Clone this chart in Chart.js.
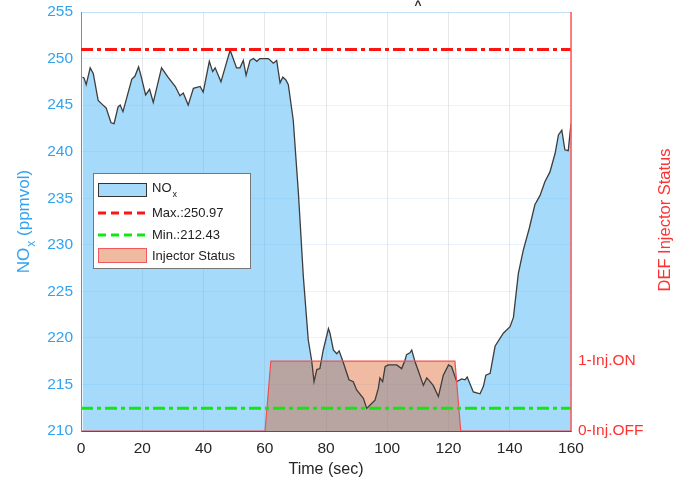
<!DOCTYPE html>
<html>
<head>
<meta charset="utf-8">
<script src="https://cdn.jsdelivr.net/npm/chart.js@4"></script>
<style>
  html, body { margin: 0; padding: 0; background: #fff; }
  #chart { display: block; }
</style>
</head>
<body>
<canvas id="chart" width="681" height="481"></canvas>
<script>
// NOx trace (sec, ppmvol)
var timeSec = [0.5, 1, 1.7, 3, 4, 5.6, 7.2, 8.2, 9.8, 10.8, 12.1, 12.8, 13.7, 16.6, 17.6, 18.8, 19.7, 21.1, 22.4, 23.6,
  26.3, 28.4, 30.8, 32.3, 33.4, 35, 36.7, 38.9, 39.9, 41.9, 43, 43.8, 45.7, 48.7, 50.8, 51.9, 53, 53.9, 55.2, 56.3,
  57.4, 58.4, 61.2, 62.8, 63.9, 65, 65.9, 66.9, 67.7, 69.3, 71, 72.6, 74.2, 75.3, 76.1, 77, 78, 79.1, 80.8, 81.3,
  82.4, 83.5, 84.3, 85.7, 87.5, 88.9, 90, 92.2, 93.3, 94.4, 96, 97.1, 97.6, 98.5, 99.3, 100.3, 103.1, 104.7, 105.8, 106.3,
  107.4, 108, 109.1, 110.1, 111.8, 112.9, 114, 115, 116.7, 118.3, 120, 121, 122.7, 124.3, 125.4, 126.1, 128.1, 130.3, 131.4, 132.2,
  133.6, 135.2, 137.9, 140.1, 141.2, 142.8, 144.4, 146.4, 148.2, 149.9, 151.5, 153.1, 154.8, 155.9, 157, 158, 159.1, 160];
var noxPpm = [248, 247.9, 247.2, 249, 248.4, 245.5, 245, 244.7, 243.1, 243, 244.8, 245, 244.3, 247.8, 248.1, 249.1, 248, 246.1, 246.7, 245.3,
  249, 248, 247, 246, 246.3, 245, 246.8, 247, 246.4, 249.7, 248.6, 249, 247.5, 250.9, 249, 249, 249.8, 248.2, 249.8, 250,
  249.7, 250, 250, 249.5, 249.8, 247.4, 248, 247.7, 247.2, 243.4, 235.5, 226.6, 219.8, 217.6, 215.3, 216.6, 216.7, 218.7, 221, 220.5,
  218.7, 218.3, 218.6, 217.3, 215.5, 215.3, 214.4, 213.5, 212.43, 212.8, 213.3, 214.6, 215.7, 215.3, 216.9, 217.1, 217.1, 216.7, 217.6, 218.2,
  218.4, 218.7, 217.4, 216.5, 214.9, 215.7, 215.3, 214.9, 213.7, 216, 217.1, 216.9, 215.3, 215.6, 215.5, 215.8, 214.2, 214, 214.8, 216,
  216.2, 219.1, 220.5, 221.2, 222.2, 226.9, 229.4, 231.8, 234.3, 235.3, 236.8, 237.8, 239.8, 241.8, 242.3, 240.2, 240.1, 243];

// DEF injector status (0 = off, 1 = on)
var injTime = [0, 60.1, 62, 122.1, 124, 160];
var injStatus = [0, 0, 1, 1, 0, 0];
var injLabels = ['0-Inj.OFF', '1-Inj.ON'];

var maxNox = 250.97;
var minNox = 212.43;
var xRange = [0, 160];
var yRange = [210, 255];

var FONT = "'Liberation Sans', Arial, sans-serif";
var BLUE = 'rgb(51,163,240)';
var RED = 'rgb(255,50,50)';

function pts(xs, ys) {
  return xs.map(function(x, i) { return { x: x, y: ys[i] }; });
}

// keep the plot box where the figure has it
function fixWidth(w) {
  return function(s) {
    s.width = w;
    s.paddingTop = 0;
    s.paddingBottom = 0;
  };
}

// titles, legend and the little mark at the top
var overlay = {
  id: 'overlay',
  afterDraw: function(chart) {
    var ctx = chart.ctx;
    var a = chart.chartArea;
    ctx.save();
    ctx.strokeStyle = 'rgba(120,190,240,0.35)';
    ctx.lineWidth = 1;
    ctx.beginPath(); ctx.moveTo(a.left, a.top + 0.5); ctx.lineTo(a.right, a.top + 0.5); ctx.stroke();
    ctx.strokeStyle = 'rgba(255,90,90,0.75)';
    ctx.beginPath(); ctx.moveTo(a.right - 0.5, a.top); ctx.lineTo(a.right - 0.5, a.bottom); ctx.stroke();

    // left title with subscript
    ctx.save();
    ctx.translate(24, 222);
    ctx.rotate(-Math.PI / 2);
    ctx.fillStyle = BLUE;
    ctx.textBaseline = 'middle';
    ctx.font = '17px ' + FONT;
    var w1 = ctx.measureText('NO').width;
    var w3 = ctx.measureText(' (ppmvol)').width;
    ctx.font = '12px ' + FONT;
    var w2 = ctx.measureText('x').width;
    var x0 = -(w1 + w2 + w3) / 2;
    ctx.font = '17px ' + FONT;
    ctx.fillText('NO', x0, 0);
    ctx.font = '12px ' + FONT;
    ctx.fillText('x', x0 + w1 + 1, 8);
    ctx.font = '17px ' + FONT;
    ctx.fillText(' (ppmvol)', x0 + w1 + w2 + 1, 0);
    ctx.restore();

    // right title, reading upwards
    ctx.save();
    ctx.translate(665, 220);
    ctx.rotate(-Math.PI / 2);
    ctx.fillStyle = RED;
    ctx.textAlign = 'center';
    ctx.textBaseline = 'middle';
    ctx.font = '16.5px ' + FONT;
    ctx.fillText('DEF Injector Status', 0, 0);
    ctx.restore();

    // x title
    ctx.fillStyle = '#262626';
    ctx.textAlign = 'center';
    ctx.textBaseline = 'middle';
    ctx.font = '16px ' + FONT;
    ctx.fillText('Time (sec)', (a.left + a.right) / 2, 470);
    ctx.font = 'bold 12px ' + FONT;
    ctx.fillText('^', 418, 6);

    // legend
    var lx = 93, ly = 173, lw = 157, lh = 95;
    ctx.fillStyle = '#fff';
    ctx.fillRect(lx, ly, lw, lh);
    ctx.strokeStyle = '#777';
    ctx.lineWidth = 1;
    ctx.strokeRect(lx + 0.5, ly + 0.5, lw, lh);

    ctx.fillStyle = 'rgb(166,218,251)';
    ctx.fillRect(98, 183, 49, 14);
    ctx.strokeStyle = '#333';
    ctx.strokeRect(98.5, 183.5, 48, 13);

    ctx.lineWidth = 3;
    ctx.setLineDash([8, 5]);
    ctx.strokeStyle = 'rgb(255,20,20)';
    ctx.beginPath(); ctx.moveTo(98, 213); ctx.lineTo(147, 213); ctx.stroke();
    ctx.strokeStyle = 'rgb(20,230,20)';
    ctx.beginPath(); ctx.moveTo(98, 235); ctx.lineTo(147, 235); ctx.stroke();
    ctx.setLineDash([]);

    ctx.fillStyle = 'rgb(238,186,160)';
    ctx.fillRect(98, 248, 49, 15);
    ctx.strokeStyle = 'rgb(240,90,90)';
    ctx.lineWidth = 1;
    ctx.strokeRect(98.5, 248.5, 48, 14);

    ctx.fillStyle = '#222';
    ctx.textAlign = 'left';
    ctx.textBaseline = 'middle';
    ctx.font = '13px ' + FONT;
    ctx.fillText('NO', 152, 188);
    var nw = ctx.measureText('NO').width;
    ctx.font = '9px ' + FONT;
    ctx.fillText('x', 152 + nw + 1, 195);
    ctx.font = '13px ' + FONT;
    ctx.fillText('Max.:' + maxNox.toFixed(2), 152, 213);
    ctx.fillText('Min.:' + minNox.toFixed(2), 152, 235);
    ctx.fillText('Injector Status', 152, 256);
    ctx.restore();
  }
};

Chart.defaults.font.family = FONT;

new Chart(document.getElementById('chart').getContext('2d'), {
  type: 'line',
  data: {
    datasets: [{
      label: 'NOx',
      data: pts(timeSec, noxPpm),
      yAxisID: 'y',
      borderColor: '#3d3d3d',
      borderWidth: 1.3,
      backgroundColor: 'rgba(64,176,246,0.47)',
      fill: 'start',
      pointRadius: 0,
      tension: 0,
      order: 3
    }, {
      label: 'Injector Status',
      data: pts(injTime, injStatus),
      yAxisID: 'y2',
      borderColor: 'rgb(240,80,80)',
      borderWidth: 1.2,
      backgroundColor: 'rgba(215,75,10,0.38)',
      fill: 'origin',
      pointRadius: 0,
      order: 2
    }, {
      label: 'Max.:' + maxNox,
      data: pts(xRange, [maxNox, maxNox]),
      yAxisID: 'y',
      borderColor: 'rgb(255,20,20)',
      borderWidth: 3,
      borderDash: [12, 4, 4, 4],
      pointRadius: 0,
      fill: false,
      order: 1
    }, {
      label: 'Min.:' + minNox,
      data: pts(xRange, [minNox, minNox]),
      yAxisID: 'y',
      borderColor: 'rgb(20,230,20)',
      borderWidth: 3,
      borderDash: [12, 4, 4, 4],
      pointRadius: 0,
      fill: false,
      order: 0
    }]
  },
  options: {
    responsive: false,
    animation: false,
    layout: { padding: { top: 12, left: 0, right: 0, bottom: 0 } },
    plugins: {
      legend: { display: false },
      tooltip: { enabled: false },
      filler: { drawTime: 'beforeDatasetsDraw' }
    },
    scales: {
      x: {
        type: 'linear',
        min: xRange[0],
        max: xRange[1],
        ticks: { stepSize: 20, color: '#262626', font: { size: 15.5 }, padding: 8, maxRotation: 0 },
        grid: { color: 'rgba(0,0,0,0.09)', drawTicks: false },
        border: { color: '#555' },
        afterFit: function(s) { s.height = 50; s.paddingLeft = 0; s.paddingRight = 0; }
      },
      y: {
        position: 'left',
        min: yRange[0],
        max: yRange[1],
        ticks: { stepSize: 5, color: BLUE, font: { size: 15.5 }, padding: 8 },
        grid: { color: 'rgba(110,180,240,0.16)', drawTicks: false },
        border: { color: BLUE },
        afterFit: fixWidth(81)
      },
      y2: {
        position: 'right',
        min: 0,
        max: 6,
        afterBuildTicks: function(s) { s.ticks = [{ value: 0 }, { value: 1 }]; },
        ticks: {
          color: RED,
          font: { size: 15.5 },
          padding: 7,
          callback: function(v) { return injLabels[v]; }
        },
        grid: { drawOnChartArea: false, drawTicks: false },
        border: { color: 'rgba(255,90,90,0.8)' },
        afterFit: fixWidth(110)
      }
    }
  },
  plugins: [overlay]
});
</script>
</body>
</html>
